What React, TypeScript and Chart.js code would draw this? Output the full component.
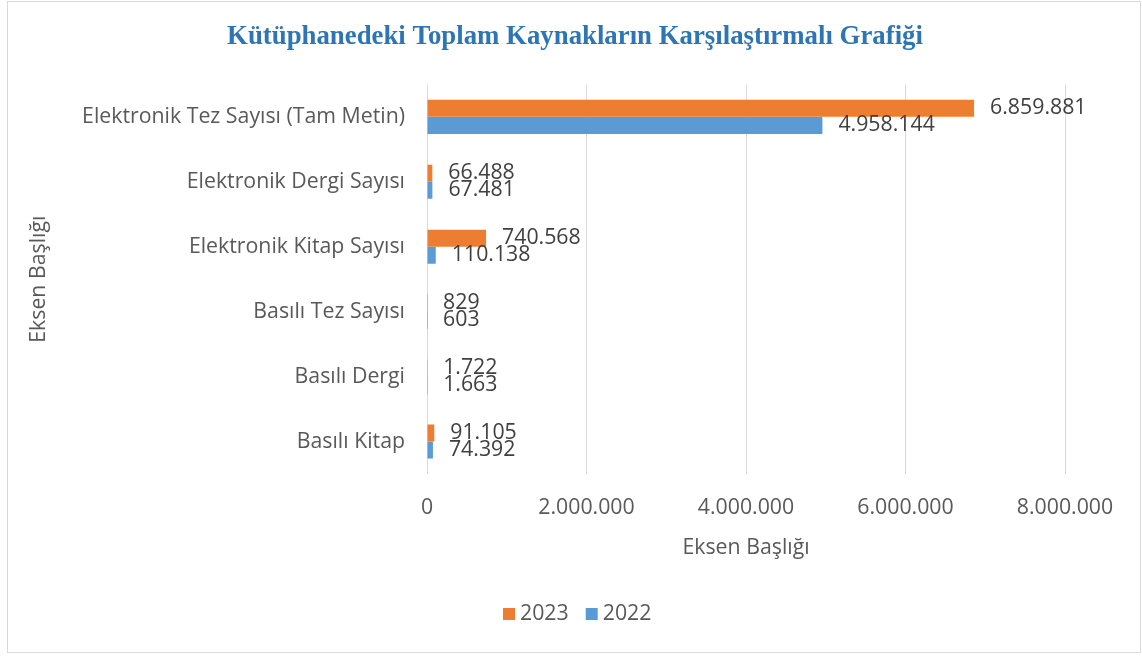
import React, { useEffect, useRef } from "react";
import { Chart, registerables } from "chart.js";

Chart.register(...registerables);

const categories = [
  "Elektronik Tez Sayısı (Tam Metin)",
  "Elektronik Dergi Sayısı",
  "Elektronik Kitap Sayısı",
  "Basılı Tez Sayısı",
  "Basılı Dergi",
  "Basılı Kitap",
];
const values2023 = [6859881, 66488, 740568, 829, 1722, 91105];
const values2022 = [4958144, 67481, 110138, 603, 1663, 74392];
const seriesNames = ["2023", "2022"];
const seriesColors = ["#ED7D31", "#5B9BD5"];
const xTicks = [0, 2000000, 4000000, 6000000, 8000000];
const titleText = "Kütüphanedeki Toplam Kaynakların Karşılaştırmalı Grafiği";
const axisTitle = "Eksen Başlığı";

const FONT = "'Open Sans', sans-serif";
const FS = 21.3;
const TITLE_FONT = "bold 26.8px 'Liberation Serif', serif";

function fmt(v: number): string {
  return String(Math.round(v)).replace(/\B(?=(\d{3})+(?!\d))/g, ".");
}

const bgPlugin = {
  id: "bgBorder",
  beforeDraw(chart: any) {
    const ctx = chart.ctx;
    ctx.save();
    ctx.fillStyle = "#ffffff";
    ctx.fillRect(0, 0, chart.width, chart.height);
    ctx.strokeStyle = "#d9d9d9";
    ctx.lineWidth = 1;
    ctx.strokeRect(7.5, 1.5, 1133, 651);
    ctx.restore();
  },
};

const labelPlugin = {
  id: "valueLabels",
  afterDatasetsDraw(chart: any) {
    const ctx = chart.ctx;
    ctx.save();
    ctx.font = `${FS}px ${FONT}`;
    ctx.fillStyle = "#404040";
    ctx.textAlign = "left";
    ctx.textBaseline = "middle";
    chart.data.datasets.forEach((ds: any, di: number) => {
      const meta = chart.getDatasetMeta(di);
      meta.data.forEach((el: any, i: number) => {
        ctx.fillText(fmt(ds.data[i]), el.x + 16, el.y);
      });
    });
    ctx.restore();
  },
};

const titleLegendPlugin = {
  id: "titleLegend",
  afterDraw(chart: any) {
    const ctx = chart.ctx;
    ctx.save();
    ctx.font = TITLE_FONT;
    ctx.fillStyle = "#2E75B6";
    ctx.textAlign = "center";
    ctx.textBaseline = "middle";
    ctx.fillText(titleText, 575, 37);
    ctx.font = `${FS}px ${FONT}`;
    ctx.textAlign = "left";
    ctx.textBaseline = "middle";
    const cy = 614;
    let x = 503;
    seriesNames.forEach((name, i) => {
      ctx.fillStyle = seriesColors[i];
      ctx.fillRect(x, cy - 6, 12, 12);
      ctx.fillStyle = "#595959";
      ctx.fillText(name, x + 17, cy);
      x += 17 + ctx.measureText(name).width + 17;
    });
    ctx.restore();
  },
};

export default function App() {
  const ref = useRef<HTMLCanvasElement>(null);
  useEffect(() => {
    document.body.style.margin = "0";
    const chart = new Chart(ref.current!, {
      type: "bar",
      data: {
        labels: categories,
        datasets: [
          {
            label: seriesNames[0],
            data: values2023,
            backgroundColor: seriesColors[0],
            barPercentage: 1,
            categoryPercentage: 0.525,
          },
          {
            label: seriesNames[1],
            data: values2022,
            backgroundColor: seriesColors[1],
            barPercentage: 1,
            categoryPercentage: 0.525,
          },
        ],
      },
      options: {
        indexAxis: "y",
        animation: false,
        responsive: false,
        maintainAspectRatio: false,
        layout: { padding: { left: 26, right: 77, top: 14, bottom: 92 } },
        plugins: {
          title: {
            display: true,
            text: titleText,
            color: "rgba(0,0,0,0)",
            font: { family: "'Liberation Serif', serif", size: 27, weight: "bold" },
            padding: { top: 7, bottom: 31 },
          },
          legend: { display: false },
          tooltip: { enabled: false },
        },
        scales: {
          x: {
            min: 0,
            max: 8000000,
            afterBuildTicks(axis: any) {
              axis.ticks = xTicks.map((v) => ({ value: v }));
            },
            afterFit(axis: any) {
              axis.height = 91;
              axis.paddingRight = 0;
              axis.paddingLeft = 0;
            },
            grid: { color: "#d9d9d9", drawTicks: false },
            border: { display: false },
            ticks: {
              color: "#595959",
              font: { family: FONT, size: FS },
              padding: 21,
              callback: (v: any) => fmt(Number(v)),
            },
            title: {
              display: true,
              text: axisTitle,
              color: "#595959",
              font: { family: FONT, size: FS },
              padding: { top: 0, bottom: 4 },
            },
          },
          y: {
            afterFit(axis: any) {
              axis.width = 401;
            },
            grid: { display: false, drawTicks: false },
            border: { display: false },
            ticks: {
              color: "#595959",
              font: { family: FONT, size: FS },
              padding: 22,
            },
            title: {
              display: true,
              text: axisTitle,
              color: "#595959",
              font: { family: FONT, size: FS },
              padding: { top: 0, bottom: 0 },
            },
          },
        },
      },
      plugins: [bgPlugin, labelPlugin, titleLegendPlugin],
    } as any);
    return () => chart.destroy();
  }, []);
  return (
    <div style={{ width: 1142, height: 657 }}>
      <canvas ref={ref} width={1142} height={657} style={{ display: "block" }} />
    </div>
  );
}
